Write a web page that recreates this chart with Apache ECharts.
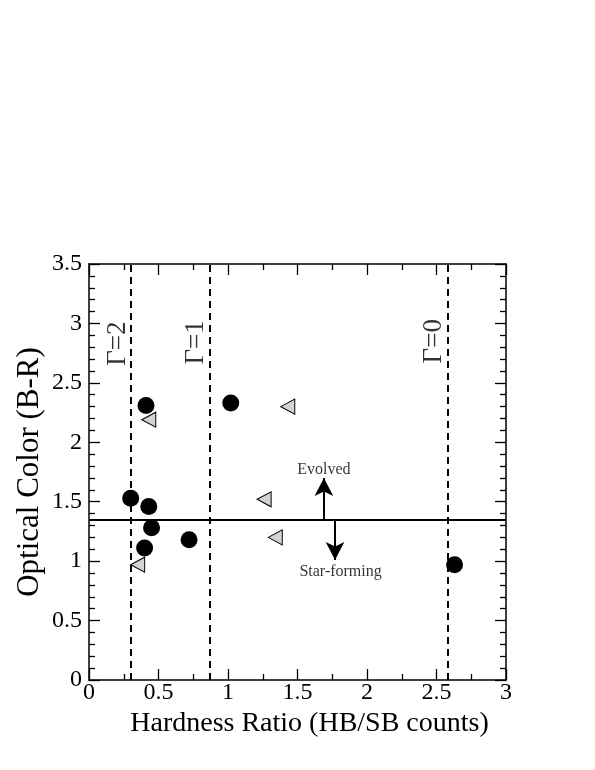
<!DOCTYPE html>
<html>
<head>
<meta charset="utf-8">
<script src="https://cdn.jsdelivr.net/npm/echarts@6/dist/echarts.min.js"></script>
<style>
html, body { margin: 0; padding: 0; background: #fff; }
#chart { width: 595px; height: 770px; }
</style>
</head>
<body>
<div id="chart"></div>
<script>
// detected sources (filled circles)
var circleX = [0.41, 1.02, 0.30, 0.43, 0.45, 0.40, 0.72, 2.63];
var circleY = [2.31, 2.33, 1.53, 1.46, 1.28, 1.11, 1.18, 0.97];
// upper limits on hardness (left triangles)
var triX = [0.43, 1.43, 1.26, 1.34, 0.35];
var triY = [2.19, 2.30, 1.52, 1.20, 0.97];
// photon index reference lines
var gammaX = [0.30, 0.868, 2.585];
var gammaNames = ['Γ=2', 'Γ=1', 'Γ=0'];
var gammaLabelX = [0.21, 0.77, 2.48];
var gammaLabelY = [2.83, 2.84, 2.85];
// evolved / star-forming divide
var divideY = 1.35;
var arrowUp = [[1.69, 1.35], [1.69, 1.70]];
var arrowDown = [[1.77, 1.35], [1.77, 1.01]];
var noteText = ['Evolved', 'Star-forming'];
var noteX = [1.69, 1.81];
var noteY = [1.77, 0.91];

var FONT = '"Liberation Serif", "Times New Roman", serif';

function initChart() {
	var pts = function (xs, ys) {
		var out = [];
		for (var i = 0; i < xs.length; i++) out.push([xs[i], ys[i]]);
		return out;
	};
	var gammaLines = gammaX.map(function (v) { return { xAxis: v }; });
	var gammaLabels = gammaX.map(function (v, i) {
		return { value: [gammaLabelX[i], gammaLabelY[i]], name: gammaNames[i] };
	});
	var notes = noteText.map(function (t, i) {
		return { value: [noteX[i], noteY[i]], name: t };
	});

	var axisLine = { show: true, onZero: false, lineStyle: { color: '#000', width: 1.5 } };
	var tick = { inside: true, length: 11, lineStyle: { color: '#000', width: 1.3 } };

	var option = {
		animation: false,
		backgroundColor: '#fff',
		grid: { left: 89, top: 264, right: 89, bottom: 90 },
		xAxis: [ {
			type: 'value',
			min: 0, max: 3, interval: 0.5,
			name: 'Hardness Ratio (HB/SB counts)',
			nameLocation: 'middle',
			nameGap: 26,
			nameTextStyle: { fontFamily: FONT, fontSize: 28, color: '#000', verticalAlign: 'top', padding: [0, 0, 0, 24] },
			axisLine: axisLine,
			axisTick: tick,
			minorTick: { show: true, splitNumber: 2, length: 6, lineStyle: { color: '#000', width: 1.3 } },
			axisLabel: { fontFamily: FONT, fontSize: 24, color: '#000', margin: 1 },
			splitLine: { show: false }
		}, {
			type: 'value',
			position: 'top',
			min: 0, max: 3, interval: 0.5,
			axisLine: axisLine,
			axisTick: tick,
			minorTick: { show: true, splitNumber: 2, length: 6, lineStyle: { color: '#000', width: 1.3 } },
			axisLabel: { show: false },
			splitLine: { show: false }
		} ],
		yAxis: [ {
			type: 'value',
			min: 0, max: 3.5, interval: 0.5,
			name: 'Optical Color (B-R)',
			nameLocation: 'middle',
			nameGap: 44,
			nameMoveOverlap: false,
			nameTextStyle: { fontFamily: FONT, fontSize: 31, color: '#000' },
			axisLine: axisLine,
			axisTick: tick,
			minorTick: { show: true, splitNumber: 5, length: 6, lineStyle: { color: '#000', width: 1.3 } },
			axisLabel: { fontFamily: FONT, fontSize: 24, color: '#000', margin: 7 },
			splitLine: { show: false }
		}, {
			type: 'value',
			position: 'right',
			min: 0, max: 3.5, interval: 0.5,
			axisLine: axisLine,
			axisTick: tick,
			minorTick: { show: true, splitNumber: 5, length: 6, lineStyle: { color: '#000', width: 1.3 } },
			axisLabel: { show: false },
			splitLine: { show: false }
		} ],
		series: [ {
			name: 'lines',
			type: 'scatter',
			data: [],
			markLine: {
				silent: true,
				symbol: 'none',
				label: { show: false },
				lineStyle: { color: '#000', type: [7, 5], width: 2 },
				data: gammaLines.concat([ {
					yAxis: divideY,
					lineStyle: { type: 'solid', width: 2 }
				} ])
			}
		}, {
			name: 'arrows',
			type: 'scatter',
			data: [],
			markLine: {
				silent: true,
				symbol: ['none', 'arrow'],
				symbolSize: [14, 18],
				label: { show: false },
				lineStyle: { color: '#000', type: 'solid', width: 2 },
				data: [
					[ { coord: arrowUp[0] }, { coord: arrowUp[1] } ],
					[ { coord: arrowDown[0] }, { coord: arrowDown[1] } ]
				]
			}
		}, {
			name: 'detected',
			type: 'scatter',
			symbol: 'circle',
			symbolSize: 17,
			itemStyle: { color: '#000', opacity: 1 },
			data: pts(circleX, circleY),
			z: 5
		}, {
			name: 'limits',
			type: 'scatter',
			symbol: 'triangle',
			symbolSize: [15, 14],
			symbolRotate: 90,
			itemStyle: { color: '#d3d3d3', borderColor: '#000', borderWidth: 1, opacity: 1 },
			data: pts(triX, triY),
			z: 5
		}, {
			name: 'gammaLabels',
			type: 'scatter',
			symbolSize: 0,
			data: gammaLabels,
			label: {
				show: true,
				position: 'inside',
				rotate: 90,
				formatter: '{b}',
				fontFamily: FONT,
				fontSize: 27,
				color: '#000'
			}
		}, {
			name: 'notes',
			type: 'scatter',
			symbolSize: 0,
			data: notes,
			label: {
				show: true,
				position: 'inside',
				formatter: '{b}',
				fontFamily: FONT,
				fontSize: 16,
				color: '#000'
			}
		} ]
	};

	var myChart = echarts.init(document.getElementById('chart'));
	myChart.setOption(option);
	window.myChart = myChart;
}
initChart();
</script>
</body>
</html>
